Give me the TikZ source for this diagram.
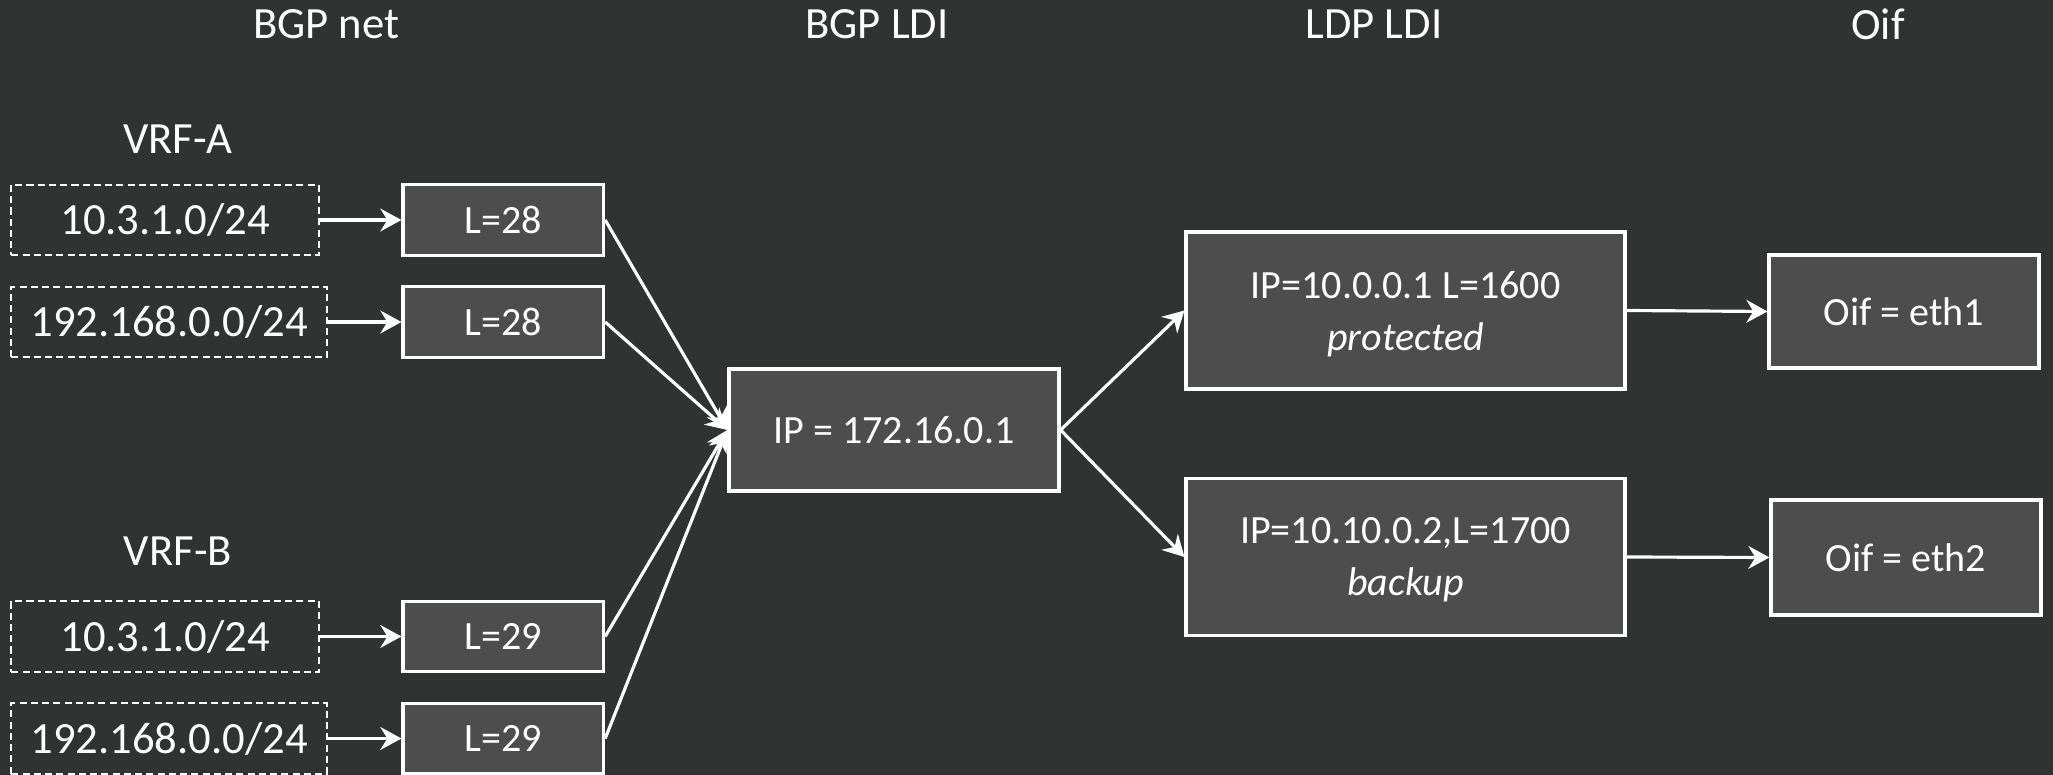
\documentclass[tikz,border=0pt]{standalone}
\usepackage{fontspec}
\setmainfont{Carlito}
\usetikzlibrary{arrows.meta}
\definecolor{bgdark}{HTML}{313332}
\definecolor{boxfill}{HTML}{4D4D4D}
\begin{document}
\begin{tikzpicture}[font=\fontsize{11.4}{14.8}\selectfont, text=white,
    bigfont/.style={font=\fontsize{12.7}{15}\selectfont},
    box/.style={draw=white, line width=0.9pt, fill=boxfill, align=center},
    netbox/.style={bigfont, draw=white, line width=0.5pt, dash pattern=on 2pt off 1.2pt,
      anchor=west, minimum width=3.075cm, minimum height=0.707cm, inner xsep=0.19cm},
    lbox/.style={box, minimum width=2.006cm, minimum height=0.707cm},
    ldibox/.style={box, minimum width=4.39cm, minimum height=1.57cm, text depth=0pt},
    arr/.style={draw=white, line width=0.9pt, -{Stealth[length=6pt, width=6.5pt, inset=2pt]}}]
    \fill[bgdark] (0,0) rectangle (20.53,-7.75);
    \useasboundingbox (0,0) rectangle (20.53,-7.75);
    % column titles
    \node[bigfont] (tnet) at (3.26,-0.24) {BGP net};
    \node[bigfont] (tbgp) at (8.77,-0.24) {BGP LDI};
    \node[bigfont] (tldp) at (13.74,-0.24) {LDP LDI};
    \node[bigfont] (toif) at (18.78,-0.24) {Oif};
    % VRF-A
    \node[bigfont] (vrfa) at (1.78,-1.39) {VRF-A};
    \node[netbox] (pa1) at (0.105,-2.20) {10.3.1.0/24};
    \node[netbox] (pa2) at (0.105,-3.22) {192.168.0.0/24};
    \node[lbox] (la1) at (5.033,-2.20) {L=28};
    \node[lbox] (la2) at (5.033,-3.22) {L=28};
    % VRF-B
    \node[bigfont] (vrfb) at (1.78,-5.51) {VRF-B};
    \node[netbox] (pb1) at (0.105,-6.365) {10.3.1.0/24};
    \node[netbox] (pb2) at (0.105,-7.385) {192.168.0.0/24};
    \node[lbox] (lb1) at (5.033,-6.365) {L=29};
    \node[lbox] (lb2) at (5.033,-7.385) {L=29};
    % load-info chain
    \node[box, minimum width=3.30cm, minimum height=1.22cm] (ip) at (8.94,-4.30) {IP = 172.16.0.1};
    \node[ldibox] (ldp1) at (14.055,-3.105) {IP=10.0.0.1 L=1600\\\textit{protected}};
    \node[ldibox] (ldp2) at (14.055,-5.57) {IP=10.10.0.2,L=1700\\\textit{backup}};
    \node[box, minimum width=2.70cm, minimum height=1.13cm] (eth1) at (19.04,-3.115) {Oif = eth1};
    \node[box, minimum width=2.70cm, minimum height=1.15cm] (eth2) at (19.06,-5.575) {Oif = eth2};
    % arrows
    \draw[arr] (pa1) -- (la1);
    \draw[arr] (pa2) -- (la2);
    \draw[arr] (pb1) -- (lb1);
    \draw[arr] (pb2) -- (lb2);
    \draw[arr] (la1.east) -- (ip.west);
    \draw[arr] (la2.east) -- (ip.west);
    \draw[arr] (lb1.east) -- (ip.west);
    \draw[arr] (lb2.east) -- (ip.west);
    \draw[arr] (ip.east) -- (ldp1.west);
    \draw[arr] (ip.east) -- (ldp2.west);
    \draw[arr] (ldp1.east) -- (eth1.west);
    \draw[arr] (ldp2.east) -- (eth2.west);
  \end{tikzpicture}
\end{document}
